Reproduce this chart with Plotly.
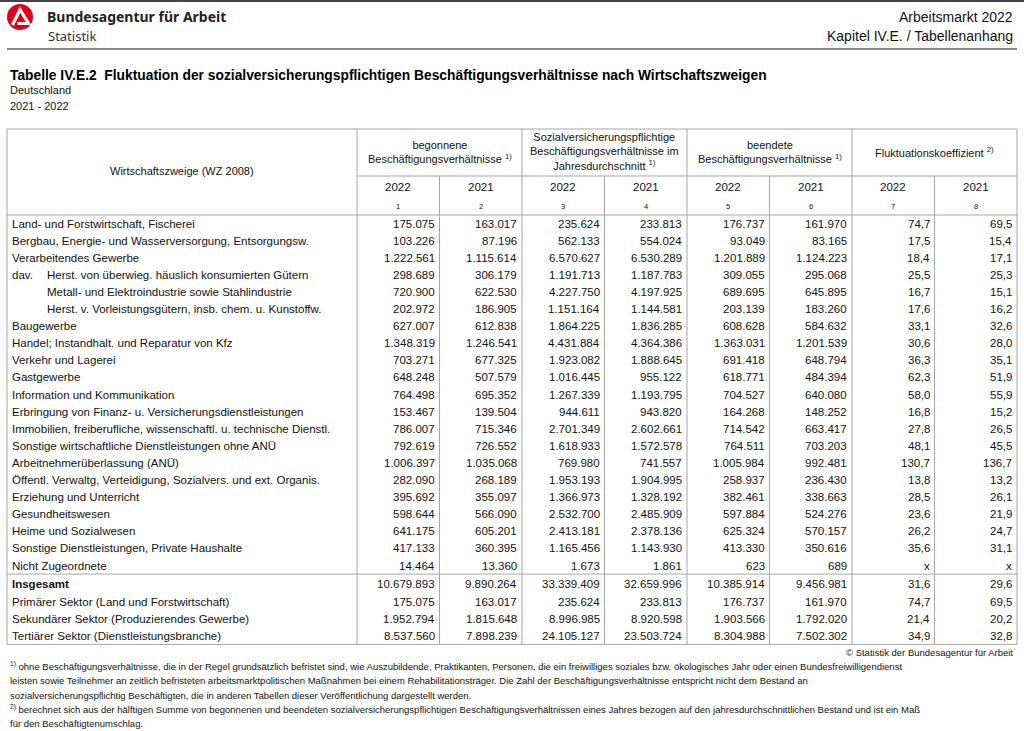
import plotly.graph_objects as go

# Tabelle IV.E.2 - Fluktuation nach Wirtschaftszweigen
labels = [
    "Land- und Forstwirtschaft, Fischerei",
    "Bergbau, Energie- und Wasserversorgung, Entsorgungsw.",
    "Verarbeitendes Gewerbe",
    "Herst. von überwieg. häuslich konsumierten Gütern",
    "Metall- und Elektroindustrie sowie Stahlindustrie",
    "Herst. v. Vorleistungsgütern, insb. chem. u. Kunstoffw.",
    "Baugewerbe",
    "Handel; Instandhalt. und Reparatur von Kfz",
    "Verkehr und Lagerei",
    "Gastgewerbe",
    "Information und Kommunikation",
    "Erbringung von Finanz- u. Versicherungsdienstleistungen",
    "Immobilien, freiberufliche, wissenschaftl. u. technische Dienstl.",
    "Sonstige wirtschaftliche Dienstleistungen ohne ANÜ",
    "Arbeitnehmerüberlassung (ANÜ)",
    "Öffentl. Verwaltg, Verteidigung, Sozialvers. und ext. Organis.",
    "Erziehung und Unterricht",
    "Gesundheitswesen",
    "Heime und Sozialwesen",
    "Sonstige Dienstleistungen, Private Haushalte",
    "Nicht Zugeordnete",
    "Insgesamt",
    "Primärer Sektor (Land und Forstwirtschaft)",
    "Sekundärer Sektor (Produzierendes Gewerbe)",
    "Tertiärer Sektor (Dienstleistungsbranche)",
]
indent_rows = [3, 4, 5]

begonnen_2022 = [175075, 103226, 1222561, 298689, 720900, 202972, 627007, 1348319, 703271, 648248,
                 764498, 153467, 786007, 792619, 1006397, 282090, 395692, 598644, 641175, 417133,
                 14464, 10679893, 175075, 1952794, 8537560]
begonnen_2021 = [163017, 87196, 1115614, 306179, 622530, 186905, 612838, 1246541, 677325, 507579,
                 695352, 139504, 715346, 726552, 1035068, 268189, 355097, 566090, 605201, 360395,
                 13360, 9890264, 163017, 1815648, 7898239]
bestand_2022 = [235624, 562133, 6570627, 1191713, 4227750, 1151164, 1864225, 4431884, 1923082, 1016445,
                1267339, 944611, 2701349, 1618933, 769980, 1953193, 1366973, 2532700, 2413181, 1165456,
                1673, 33339409, 235624, 8996985, 24105127]
bestand_2021 = [233813, 554024, 6530289, 1187783, 4197925, 1144581, 1836285, 4364386, 1888645, 955122,
                1193795, 943820, 2602661, 1572578, 741557, 1904995, 1328192, 2485909, 2378136, 1143930,
                1861, 32659996, 233813, 8920598, 23503724]
beendet_2022 = [176737, 93049, 1201889, 309055, 689695, 203139, 608628, 1363031, 691418, 618771,
                704527, 164268, 714542, 764511, 1005984, 258937, 382461, 597884, 625324, 413330,
                623, 10385914, 176737, 1903566, 8304988]
beendet_2021 = [161970, 83165, 1124223, 295068, 645895, 183260, 584632, 1201539, 648794, 484394,
                640080, 148252, 663417, 703203, 992481, 236430, 338663, 524276, 570157, 350616,
                689, 9456981, 161970, 1792020, 7502302]
fluk_2022 = [74.7, 17.5, 18.4, 25.5, 16.7, 17.6, 33.1, 30.6, 36.3, 62.3, 58.0, 16.8, 27.8, 48.1,
             130.7, 13.8, 28.5, 23.6, 26.2, 35.6, None, 31.6, 74.7, 21.4, 34.9]
fluk_2021 = [69.5, 15.4, 17.1, 25.3, 15.1, 16.2, 32.6, 28.0, 35.1, 51.9, 55.9, 15.2, 26.5, 45.5,
             136.7, 13.2, 26.1, 21.9, 24.7, 31.1, None, 29.6, 69.5, 20.2, 32.8]

group_headers = [
    "begonnene<br>Beschäftigungsverhältnisse <sup>1)</sup>",
    "Sozialversicherungspflichtige<br>Beschäftigungsverhältnisse im<br>Jahresdurchschnitt <sup>1)</sup>",
    "beendete<br>Beschäftigungsverhältnisse <sup>1)</sup>",
    "Fluktuationskoeffizient <sup>2)</sup>",
]
years = ["2022", "2021"] * 4
col_numbers = ["1", "2", "3", "4", "5", "6", "7", "8"]

footnote_1 = [
    "<sup>1)</sup> ohne Beschäftigungsverhältnisse, die in der Regel grundsätzlich befristet sind, wie Auszubildende, Praktikanten, Personen, die ein freiwilliges soziales bzw. ökologisches Jahr oder einen Bundesfreiwilligendienst",
    "leisten sowie Teilnehmer an zeitlich befristeten arbeitsmarktpolitischen Maßnahmen bei einem Rehabilitationsträger. Die Zahl der Beschäftigungsverhältnisse entspricht nicht dem Bestand an",
    "sozialversicherungspflichtig Beschäftigten, die in anderen Tabellen dieser Veröffentlichung dargestellt werden.",
]
footnote_2 = [
    "<sup>2)</sup> berechnet sich aus der hälftigen Summe von begonnenen und beendeten sozialversicherungspflichtigen Beschäftigungsverhältnissen eines Jahres bezogen auf den jahresdurchschnittlichen Bestand und ist ein Maß",
    "für den Beschäftigtenumschlag.",
]


def fmt_int(v):
    return f"{v:,}".replace(",", ".")


def fmt_dec(v):
    return "x" if v is None else f"{v:.1f}".replace(".", ",")


columns = [begonnen_2022, begonnen_2021, bestand_2022, bestand_2021,
           beendet_2022, beendet_2021, fluk_2022, fluk_2021]

FONT = "Liberation Sans, Arial, sans-serif"
GRID = "#a6a6a6"
BODY = 11.5

# table geometry (page pixels)
x_left, x_first, x_right = 7, 357, 1017
col_w = (x_right - x_first) / 8
col_edges = [x_first + col_w * k for k in range(9)]
y_top, y_group, y_head = 129, 176, 215
row_h = 17.1

row_bounds = [y_head]
for i in range(len(labels)):
    h = row_h
    if labels[i] == "Insgesamt":
        h = 19
    row_bounds.append(row_bounds[-1] + h)
y_sep = row_bounds[labels.index("Insgesamt")]
y_bottom = row_bounds[-1]

fig = go.Figure()
shapes = []
ann = []


def text(x, y, s, size=BODY, anchor="left", bold=False, color="#111111", fam=FONT, align="left"):
    if bold:
        s = f"<b>{s}</b>"
    ann.append(dict(x=x, y=y, text=s, xanchor=anchor, yanchor="middle", showarrow=False,
                    align=align, font=dict(family=fam, size=size, color=color)))


def hline(y, x0, x1, color=GRID, w=1):
    shapes.append(dict(type="line", x0=x0, x1=x1, y0=y, y1=y, line=dict(color=color, width=w)))


def vline(x, y0, y1, color=GRID, w=1):
    shapes.append(dict(type="line", x0=x, x1=x, y0=y0, y1=y1, line=dict(color=color, width=w)))


# page header
hline(1, 0, 1024, color="#444444", w=2)
hline(49, 7, 1017, color="#8c8c8c", w=2)
shapes.append(dict(type="circle", x0=7, x1=33, y0=4, y1=30, fillcolor="#e2001a", line=dict(width=0)))
shapes.append(dict(type="path", path="M 12.5 25 L 20 9.5 L 28.5 23.5 L 17.5 23.5",
                   line=dict(color="white", width=3.2)))
text(45, 16, "Bundesagentur für Arbeit", size=14, bold=True, fam="Noto Sans, sans-serif", color="#222")
text(46, 36, "Statistik", size=13, fam="Noto Sans, sans-serif", color="#333")
text(1015, 17, "Arbeitsmarkt 2022", size=14, anchor="right")
text(1015, 36, "Kapitel IV.E. / Tabellenanhang", size=14, anchor="right")

text(8, 75, "Tabelle IV.E.2  Fluktuation der sozialversicherungspflichtigen Beschäftigungsverhältnisse nach Wirtschaftszweigen",
     size=13.8, bold=True, color="#000")
text(8, 90, "Deutschland", size=11)
text(8, 106, "2021 - 2022", size=11)

# table frame
hline(y_top, x_left, x_right)
hline(y_group, x_first, x_right)
hline(y_head, x_left, x_right)
hline(y_sep, x_left, x_right)
hline(y_bottom, x_left, x_right)
vline(x_left, y_top, y_bottom)
for k, xe in enumerate(col_edges):
    vline(xe, y_top if k % 2 == 0 else y_group, y_bottom)

text((x_left + x_first) / 2, 171, "Wirtschaftszweige (WZ 2008)", size=11, anchor="center")
for g, h in enumerate(group_headers):
    text((col_edges[2 * g] + col_edges[2 * g + 2]) / 2, (y_top + y_group) / 2 - 1, h,
         size=11, anchor="center", align="center")
for k in range(8):
    xc = (col_edges[k] + col_edges[k + 1]) / 2
    text(xc, 187, years[k], size=11.5, anchor="center")
    text(xc, 206, col_numbers[k], size=7.5, anchor="center")

# body
for i, lab in enumerate(labels):
    yc = (row_bounds[i] + row_bounds[i + 1]) / 2
    bold = lab == "Insgesamt"
    if i in indent_rows:
        if i == indent_rows[0]:
            text(10, yc, "dav.")
        text(45, yc, lab)
    else:
        text(10, yc, lab, bold=bold)
    for k, col in enumerate(columns):
        v = col[i]
        s = fmt_dec(v) if k >= 6 else fmt_int(v)
        text(col_edges[k + 1] - 3, yc, s, anchor="right")

# footer
text(1015, 652, "© Statistik der Bundesagentur für Arbeit", size=9.5, anchor="right")
for j, line in enumerate(footnote_1):
    text(8, 666 + 14.5 * j, line, size=9.5)
for j, line in enumerate(footnote_2):
    text(8, 709 + 14.5 * j, line, size=9.5)

fig.update_layout(
    width=1024, height=731,
    margin=dict(l=0, r=0, t=0, b=0),
    paper_bgcolor="white", plot_bgcolor="white",
    xaxis=dict(range=[0, 1024], visible=False, fixedrange=True),
    yaxis=dict(range=[731, 0], visible=False, fixedrange=True),
    shapes=shapes,
    annotations=ann,
    showlegend=False,
)

fig.write_html("out.html", config={"displayModeBar": False},
               post_script="document.body.style.margin='0';document.body.style.overflow='hidden';")
